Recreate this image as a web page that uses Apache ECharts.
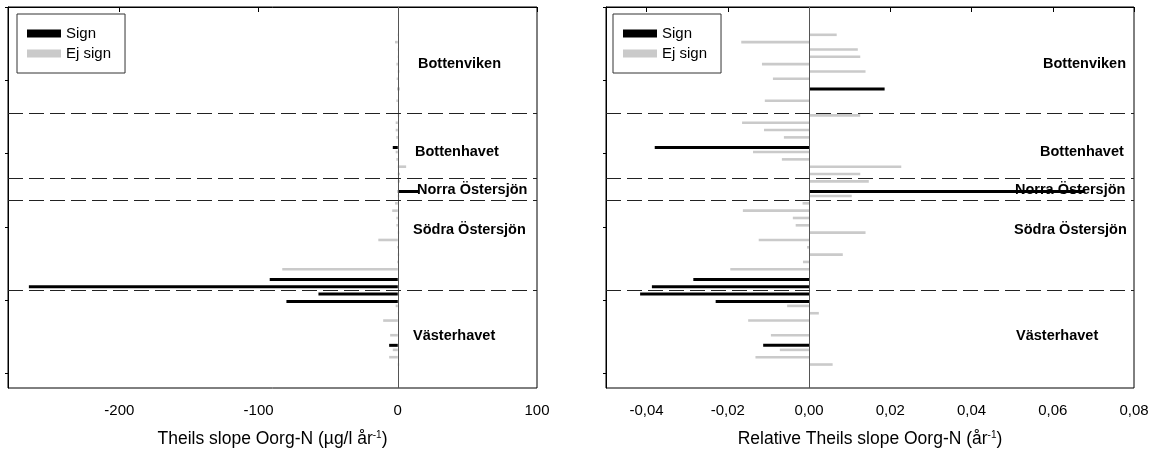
<!DOCTYPE html>
<html><head><meta charset="utf-8">
<script src="https://cdn.jsdelivr.net/npm/echarts@6/dist/echarts.min.js"></script>
<style>html,body{margin:0;padding:0;background:#fff}#c{width:1152px;height:455px}</style>
</head><body><div id="c"></div>
<script>
// Row slots on the vertical axis (0 = top, 52 = bottom)
const rowCount = 53;
const stationRow = [4,5,6,7,8,9,10,11,12,13,14,15,16,17,18,19,20,21,22,23,24,25,26,27,28,29,30,31,32,33,34,35,36,37,38,39,40,41,42,43,44,45,46,47,48,49];
// Theils slope Oorg-N (µg/l per year)
const absSlope = [0.5,-2,0.8,0.8,-1,1.2,-0.8,1,null,-1,null,1,-1.5,-1.5,-1,-3.6,-1.5,-1,6,1.5,1.5,15.5,1,-2,-4,-1,-1,1,-14,-0.5,1,-0.5,-83,-92,-265,-57,-80,-1.5,0.5,-10.5,null,-5.5,-6.2,-3.6,-6.2,1];
// Relative Theils slope Oorg-N (per year)
const relSlope = [0.0068,-0.0167,0.0120,0.0126,-0.0116,0.0139,-0.0089,0.0186,null,-0.0109,null,0.0126,-0.0165,-0.0111,-0.0062,-0.0380,-0.0138,-0.0067,0.0227,0.0126,0.0147,0.0680,0.0105,-0.0016,-0.0163,-0.0040,-0.0033,0.0139,-0.0124,-0.0005,0.0083,-0.0015,-0.0194,-0.0285,-0.0387,-0.0416,-0.0230,-0.0054,0.0024,-0.0150,null,-0.0094,-0.0113,-0.0072,-0.0132,0.0058];
// 1 = significant trend
const significant = [0,0,0,0,0,0,0,1,0,0,0,0,0,0,0,1,0,0,0,0,0,1,0,0,0,0,0,0,0,0,0,0,0,1,1,1,1,0,0,0,0,0,1,0,0,0];
const absTicks = [-200,-100,0,100];
const relTicks = [-0.04,-0.02,0,0.02,0.04,0.06,0.08];
const regionBreaks = [14.5,23.4,26.4,38.7];
const regionNames = ['Bottenviken','Bottenhavet','Norra Östersjön','Södra Östersjön','Västerhavet'];
const legendNames = ['Sign','Ej sign'];

const FONT = '"Liberation Sans", Arial, sans-serif';
const categories = Array.from({length: rowCount}, (_, i) => String(i));

function split(vals) {
  const sig = new Array(rowCount).fill(null), ns = new Array(rowCount).fill(null);
  stationRow.forEach((r, i) => {
    if (vals[i] == null) return;
    if (significant[i]) sig[r] = vals[i]; else ns[r] = vals[i];
  });
  return {sig, ns};
}
const L = split(absSlope), R = split(relSlope);

const grids = [
  {left: 8, top: 7, width: 529, height: 381},
  {left: 606, top: 7, width: 528, height: 381}
];

function xAxisFor(gi, min, max, ticks, fmt, nameRich) {
  return {
    type: 'value', gridIndex: gi, min, max,
    splitLine: {show: false},
    axisLine: {show: true, lineStyle: {color: '#000', width: 1}},
    axisTick: {show: true, length: 5, customValues: ticks, lineStyle: {color: '#000'}},
    axisLabel: {customValues: ticks, formatter: fmt, color: '#000', fontSize: 15, fontFamily: FONT, margin: 15},
    name: nameRich, nameLocation: 'middle', nameGap: 42,
    nameTextStyle: {color: '#000', fontSize: 17.5, fontFamily: FONT,
      rich: {sup: {fontSize: 10, fontFamily: FONT, color: '#000', verticalAlign: 'top', lineHeight: 17}}}
  };
}
function yCat(gi) {
  return {
    type: 'category', gridIndex: gi, data: categories, inverse: true, boundaryGap: false,
    axisLine: {show: true, onZero: false, lineStyle: {color: '#000'}},
    axisTick: {show: true, interval: 9, length: 3, lineStyle: {color: '#000'}},
    axisLabel: {show: false}, splitLine: {show: false}
  };
}
function yVal(gi) {
  return {type: 'value', gridIndex: gi, min: 0, max: rowCount - 1, inverse: true, show: false};
}
function barPair(gi, d) {
  return [
    {name: 'Ej sign', type: 'bar', xAxisIndex: gi, yAxisIndex: gi * 2, data: d.ns,
     barWidth: 2.6, barGap: '0%', itemStyle: {color: '#cacaca'}, silent: true,
     markLine: {symbol: ['none', 'none'], silent: true, label: {show: false},
       lineStyle: {type: 'solid', color: '#555', width: 1}, data: [{xAxis: 0}]}},
    {name: 'Sign', type: 'bar', xAxisIndex: gi, yAxisIndex: gi * 2, data: d.sig,
     barWidth: 3, barGap: '0%', itemStyle: {color: '#000'}, silent: true}
  ];
}
function breaks(gi, x0) {
  return {name: 'breaks' + gi, type: 'line', xAxisIndex: gi, yAxisIndex: gi * 2 + 1,
    data: [[x0, 0]], showSymbol: false, symbol: 'none', lineStyle: {opacity: 0}, silent: true,
    markLine: {symbol: ['none', 'none'], silent: true, label: {show: false},
      lineStyle: {type: [15, 6], color: '#222', width: 1},
      data: regionBreaks.map(b => ({yAxis: b}))}};
}
function legendAt(left) {
  return {data: legendNames, orient: 'vertical', left, top: 14, icon: 'rect',
    itemWidth: 34, itemHeight: 8, itemGap: 5, itemTextGap: 8,
    padding: [12, 14, 12, 10], borderColor: '#333', borderWidth: 1,
    textStyle: {color: '#000', fontSize: 15, fontFamily: FONT, lineHeight: 14}};
}
const labelPos = [
  [[418, 64], [415, 152], [417, 190], [413, 230], [413, 336]],
  [[1043, 64], [1040, 152], [1015, 190], [1014, 230], [1016, 336]]
];
const graphics = [];
labelPos.forEach(p => p.forEach((xy, i) => graphics.push({
  type: 'text', x: xy[0], y: xy[1], z: 100,
  style: {text: regionNames[i], fill: '#000', font: 'bold 14.5px ' + FONT, verticalAlign: 'middle', align: 'left'}
})));

const chart = echarts.init(document.getElementById('c'), null, {renderer: 'canvas'});
chart.setOption({
  animation: false,
  backgroundColor: '#fff',
  grid: grids.map(g => Object.assign({show: true, borderColor: '#000', borderWidth: 1, backgroundColor: 'transparent'}, g)),
  legend: [legendAt(17), legendAt(613)],
  xAxis: [
    xAxisFor(0, -280, 100, absTicks, v => String(v), 'Theils slope Oorg-N (µg/l år{sup|-1})'),
    xAxisFor(1, -0.05, 0.08, relTicks, v => v.toFixed(2).replace('.', ','), 'Relative Theils slope Oorg-N (år{sup|-1})')
  ],
  yAxis: [yCat(0), yVal(0), yCat(1), yVal(1)],
  series: [...barPair(0, L), ...barPair(1, R), breaks(0, -280), breaks(1, -0.05)],
  graphic: graphics
});
</script></body></html>
